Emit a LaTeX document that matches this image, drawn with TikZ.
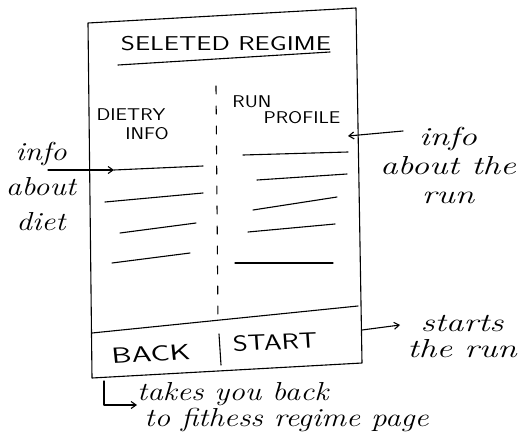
\documentclass[tikz,border=0pt]{standalone}
\usetikzlibrary{arrows.meta}
\begin{document}
\begin{tikzpicture}[x=1pt,y=-1pt,
  ink/.style={line width=1.1pt, line cap=round, line join=round},
  pointer/.style={ink, -{Straight Barb[length=5pt,width=7pt]}},
  divider/.style={ink, dash pattern=on 8pt off 12pt},
  note/.style={font=\itshape\fontsize{26}{29}\selectfont, inner sep=0pt, anchor=center},
  caps/.style={font=\sffamily\fontsize{17}{19}\selectfont, inner sep=0pt, anchor=center, xscale=1.2},
  bigcaps/.style={font=\sffamily\fontsize{22}{24}\selectfont, inner sep=0pt, anchor=center}]
\useasboundingbox (0,0) rectangle (529,439);

% screen frame
\coordinate (tl) at (88,23);
\coordinate (tr) at (356,8);
\coordinate (br) at (362,363);
\coordinate (bl) at (92,378);
\draw[ink] (tl) -- (tr) -- (br) -- (bl) -- cycle;

% title and underline
\node[bigcaps, font=\sffamily\fontsize{20}{22}\selectfont, xscale=1.35] (title) at (226,44) {SELETED REGIME};
\draw[ink] (118,65) -- (330,52);

% column divider and button bar
\draw[divider] (216,86) -- (218,322);
\coordinate (sepL) at (92,333);
\coordinate (sepR) at (358,306);
\draw[ink] (sepL) -- (sepR);
\draw[ink] (219,334) -- (221,365);

% column headings
\node[caps] (diet) at (131,115) {DIETRY};
\node[caps] (dinfo) at (147,134) {INFO};
\node[caps] (run) at (252,102) {RUN};
\node[caps] (profile) at (302,118) {PROFILE};

% left column rows
\coordinate (d1) at (114,170);
\draw[ink] (d1) -- (203,166);
\draw[ink] (105,202) -- (203,193);
\draw[ink] (120,233) -- (196,223);
\draw[ink] (112,263) -- (190,253);

% right column rows
\coordinate (r1) at (348,136);
\draw[ink] (243,155) -- (348,152);
\draw[ink] (257,180) -- (347,174);
\draw[ink] (253,210) -- (337,197);
\draw[ink] (248,232) -- (335,224);
\draw[ink] (235,263) -- (333,263);

% buttons
\node[bigcaps, xscale=1.45, rotate=4] (back) at (151,354) {BACK};
\node[bigcaps, xscale=1.3, rotate=3] (start) at (275,342) {START};

% annotations
\node[note, align=center, xscale=1.2, font=\itshape\fontsize{26}{35}\selectfont] (dietnote) at (41,186) {info\\about\\diet};
\coordinate (dtail) at (48,170);
\draw[pointer] (dtail) -- (d1);

\node[note, align=center, xscale=1.35] (runnote) at (448,165) {info\\about the\\run};
\coordinate (rtail) at (403,131);
\draw[pointer] (rtail) -- (r1);

\node[note, align=center, xscale=1.35, font=\itshape\fontsize{26}{26}\selectfont] (startnote) at (462,336) {starts\\the run};
\coordinate (sbar) at (362,330);
\coordinate (shead) at (400,325);
\draw[pointer] (sbar) -- (shead);

\node[note, align=left, anchor=west, xscale=1.2, font=\itshape\fontsize{26}{26}\selectfont] (backnote) at (137,407) {takes you back\\\hspace*{6pt}to fithess regime page};
\coordinate (bcorner) at (104,381);
\draw[pointer] (bcorner) |- (backnote.west |- 0,405);
\end{tikzpicture}
\end{document}
